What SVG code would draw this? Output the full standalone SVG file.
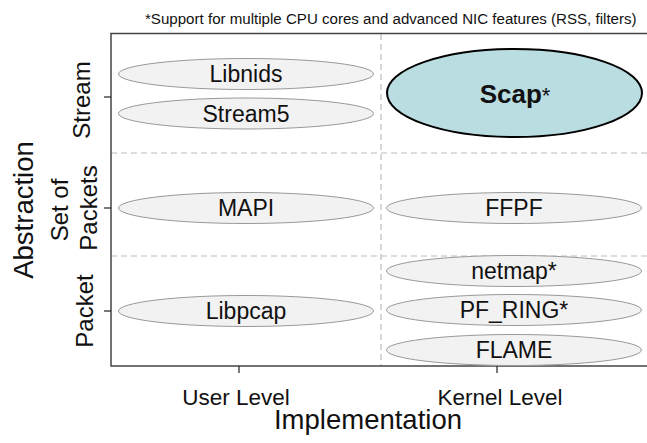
<svg xmlns="http://www.w3.org/2000/svg" width="647" height="443" viewBox="0 0 647 443">
<style>
text{font-family:"Liberation Sans",Arial,sans-serif;fill:#111}
.n{fill:#f2f2f2;stroke:#999;stroke-width:1}
.lbl{font-size:23px;text-anchor:middle}
.tl{font-size:24px;text-anchor:middle}
.xl{font-size:22.5px;text-anchor:middle}
.grid{stroke:#bbb;stroke-width:1.2;stroke-dasharray:6,4;fill:none}
.ax{stroke:#444;stroke-width:1.5;fill:none}
.tick{stroke:#222;stroke-width:1.2}
</style>
<rect width="647" height="443" fill="#fff"/>
<text x="145" y="24" font-size="15.1">*Support for multiple CPU cores and advanced NIC features (RSS, filters)</text>
<g id="grid">
<line class="grid" x1="381" y1="34" x2="381" y2="366"/>
<line class="grid" x1="111" y1="153" x2="647" y2="153"/>
<line class="grid" x1="111" y1="256" x2="647" y2="256"/>
</g>
<g id="axes">
<path class="ax" d="M647,33.5 H111 V366 H647"/>
<line class="tick" x1="104" y1="97" x2="111" y2="97"/>
<line class="tick" x1="104" y1="208" x2="111" y2="208"/>
<line class="tick" x1="104" y1="311" x2="111" y2="311"/>
<line class="tick" x1="239" y1="366" x2="239" y2="373"/>
<line class="tick" x1="497" y1="366" x2="497" y2="373"/>
<text class="tl" transform="translate(90,100) rotate(-90)">Stream</text>
<text class="tl" transform="translate(68,210) rotate(-90)">Set of</text>
<text class="tl" transform="translate(97,208) rotate(-90)">Packets</text>
<text class="tl" transform="translate(93,311) rotate(-90)">Packet</text>
<text class="xl" x="236" y="405">User Level</text>
<text class="xl" x="500" y="405">Kernel Level</text>
<text font-size="27.5" text-anchor="middle" x="368" y="429">Implementation</text>
<text font-size="27.5" text-anchor="middle" transform="translate(33,210) rotate(-90)">Abstraction</text>
</g>
<g id="connectors"></g>
<g id="libnids"><ellipse class="n" cx="246" cy="74" rx="127.5" ry="15.5"/><text class="lbl" x="246" y="82">Libnids</text></g>
<g id="stream5"><ellipse class="n" cx="246" cy="113.5" rx="127.5" ry="15.5"/><text class="lbl" x="246" y="121.5">Stream5</text></g>
<g id="mapi"><ellipse class="n" cx="246" cy="208" rx="127.5" ry="15.5"/><text class="lbl" x="246" y="216">MAPI</text></g>
<g id="libpcap"><ellipse class="n" cx="246" cy="311" rx="127.5" ry="15.5"/><text class="lbl" x="246" y="319">Libpcap</text></g>
<g id="scap"><ellipse cx="514.5" cy="93" rx="127.5" ry="44" fill="#badde2" stroke="#000" stroke-width="2"/><text x="515" y="103" text-anchor="middle" font-size="26"><tspan font-weight="bold">Scap</tspan><tspan font-size="22">*</tspan></text></g>
<g id="ffpf"><ellipse class="n" cx="514" cy="208" rx="127.5" ry="15.5"/><text class="lbl" x="514" y="216">FFPF</text></g>
<g id="netmap"><ellipse class="n" cx="514" cy="271" rx="127.5" ry="15.5"/><text class="lbl" x="514" y="279">netmap*</text></g>
<g id="pf_ring"><ellipse class="n" cx="514" cy="310" rx="127.5" ry="15.5"/><text class="lbl" x="514" y="318">PF_RING*</text></g>
<g id="flame"><ellipse class="n" cx="514" cy="350" rx="127.5" ry="15.5"/><text class="lbl" x="514" y="358">FLAME</text></g>
</svg>
